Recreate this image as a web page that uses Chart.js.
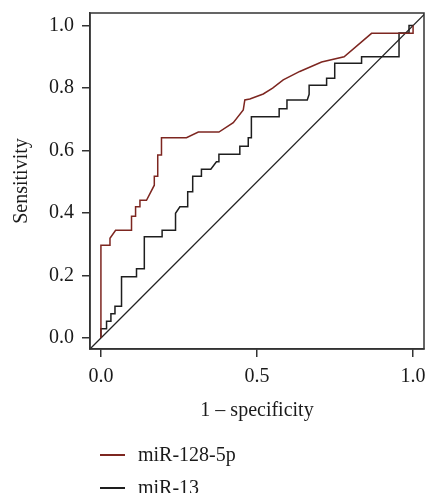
<!DOCTYPE html>
<html>
<head>
<meta charset="utf-8">
<script src="https://cdn.jsdelivr.net/npm/chart.js@4/dist/chart.umd.min.js"></script>
<style>
  html, body { margin: 0; padding: 0; background: #fff; }
  #wrap { position: relative; width: 427px; height: 493px; overflow: hidden; }
  #c { position: absolute; left: 0; top: 0; }
  .leg { position: absolute; left: 100px; font-family: "Liberation Serif", serif; font-size: 20px; color: #1a1a1a; white-space: nowrap; }
  .leg span.ln { position: absolute; left: 0; width: 25px; top: -1px; height: 1.6px; display: block; }
  .leg span.tx { position: absolute; left: 38px; top: 0; transform: translateY(-52%); }
</style>
</head>
<body>
<div id="wrap">
  <canvas id="c" width="427" height="493"></canvas>
  <div id="legend"></div>
</div>
<script>
// ---- data (x = 1 - specificity, y = sensitivity) ----
const seriesNames = ["miR-128-5p", "miR-13"];
const seriesColors = ["#7d2620", "#1e1e1e"];

const red128Fpr = [0, 0, 0.029, 0.029, 0.047, 0.098, 0.098, 0.111, 0.111, 0.125, 0.125, 0.146, 0.171, 0.171, 0.182, 0.182, 0.194, 0.194, 0.274, 0.312, 0.378, 0.424, 0.456, 0.461, 0.477, 0.52, 0.55, 0.584, 0.637, 0.707, 0.779, 0.867, 1.0, 1.0];
const red128Tpr = [0, 0.297, 0.297, 0.319, 0.345, 0.345, 0.39, 0.39, 0.42, 0.42, 0.441, 0.441, 0.489, 0.518, 0.518, 0.586, 0.586, 0.641, 0.641, 0.659, 0.659, 0.689, 0.73, 0.762, 0.765, 0.781, 0.8, 0.826, 0.853, 0.883, 0.9, 0.975, 0.975, 1.0];

const mir13Fpr = [0, 0, 0.018, 0.018, 0.032, 0.032, 0.045, 0.045, 0.066, 0.066, 0.114, 0.114, 0.139, 0.139, 0.196, 0.196, 0.239, 0.239, 0.253, 0.278, 0.278, 0.294, 0.294, 0.322, 0.322, 0.352, 0.37, 0.378, 0.378, 0.445, 0.445, 0.472, 0.472, 0.482, 0.482, 0.571, 0.571, 0.596, 0.596, 0.661, 0.667, 0.667, 0.723, 0.723, 0.749, 0.749, 0.835, 0.835, 0.955, 0.955, 0.987, 0.987, 1.0];
const mir13Tpr = [0, 0.03, 0.03, 0.054, 0.054, 0.078, 0.078, 0.102, 0.102, 0.196, 0.196, 0.222, 0.222, 0.324, 0.324, 0.345, 0.345, 0.399, 0.42, 0.42, 0.468, 0.468, 0.518, 0.518, 0.54, 0.54, 0.564, 0.564, 0.588, 0.588, 0.614, 0.614, 0.641, 0.641, 0.708, 0.708, 0.734, 0.734, 0.762, 0.762, 0.78, 0.809, 0.809, 0.831, 0.831, 0.879, 0.879, 0.9, 0.9, 0.976, 0.976, 1.0, 1.0];

const diagonalX = [-0.2, 1.2];
const diagonalY = [-0.2, 1.2];

const xTickValues = [0, 0.5, 1.0];
const yTickValues = [0, 0.2, 0.4, 0.6, 0.8, 1.0];
const xTitle = "1 \u2013 specificity";
const yTitle = "Sensitivity";

function pts(xs, ys) { return xs.map((x, i) => ({ x: x, y: ys[i] })); }

const FONT = "'Liberation Serif', 'Times New Roman', serif";
const AXIS_COLOR = "#333333";
const TEXT_COLOR = "#1a1a1a";

const boxPlugin = {
  id: 'box',
  afterDraw(chart) {
    const a = chart.chartArea, ctx = chart.ctx;
    ctx.save();
    ctx.strokeStyle = AXIS_COLOR;
    ctx.lineWidth = 1.5;
    ctx.strokeRect(a.left, a.top, a.right - a.left, a.bottom - a.top);
    ctx.restore();
  }
};

const chart = new Chart(document.getElementById('c'), {
  type: 'scatter',
  data: {
    datasets: [
      { label: seriesNames[0], data: pts(red128Fpr, red128Tpr), borderColor: seriesColors[0], showLine: true, pointRadius: 0, borderWidth: 1.5, fill: false, tension: 0 },
      { label: seriesNames[1], data: pts(mir13Fpr, mir13Tpr), borderColor: seriesColors[1], showLine: true, pointRadius: 0, borderWidth: 1.5, fill: false, tension: 0 },
      { label: 'reference', data: pts(diagonalX, diagonalY), borderColor: '#222222', showLine: true, pointRadius: 0, borderWidth: 1.3, fill: false, clip: 0 }
    ]
  },
  options: {
    responsive: false,
    animation: false,
    layout: { padding: { left: 0, right: 3, top: 13, bottom: 64 } },
    plugins: { legend: { display: false }, tooltip: { enabled: false } },
    scales: {
      x: {
        type: 'linear', min: -0.035, max: 1.035,
        afterBuildTicks: s => { s.ticks = xTickValues.map(v => ({ value: v })); },
        afterFit: s => { s.height = 80; s.paddingLeft = 0; s.paddingRight = 0; },
        grid: { display: true, drawOnChartArea: false, drawTicks: true, tickLength: 8, color: AXIS_COLOR, lineWidth: 1.5 },
        border: { display: true, color: AXIS_COLOR, width: 1.5 },
        ticks: { callback: v => Number(v).toFixed(1), font: { family: FONT, size: 20 }, color: TEXT_COLOR, padding: 8, maxRotation: 0 },
        title: { display: true, text: xTitle, font: { family: FONT, size: 20 }, color: TEXT_COLOR, padding: { top: 0, bottom: 6 } }
      },
      y: {
        type: 'linear', min: -0.035, max: 1.04,
        afterBuildTicks: s => { s.ticks = yTickValues.map(v => ({ value: v })); },
        afterFit: s => { s.width = 90; s.paddingTop = 0; s.paddingBottom = 0; },
        grid: { display: true, drawOnChartArea: false, drawTicks: true, tickLength: 8, color: AXIS_COLOR, lineWidth: 1.5 },
        border: { display: true, color: AXIS_COLOR, width: 1.5 },
        ticks: { callback: v => Number(v).toFixed(1), font: { family: FONT, size: 20 }, color: TEXT_COLOR, padding: 8 },
        title: { display: true, text: yTitle, font: { family: FONT, size: 20 }, color: TEXT_COLOR, padding: { top: 10, bottom: 0 } }
      }
    }
  },
  plugins: [boxPlugin]
});

// HTML legend built from the chart's datasets
const legendEl = document.getElementById('legend');
const legendY = [455, 488];
chart.data.datasets.slice(0, 2).forEach((ds, i) => {
  const d = document.createElement('div');
  d.className = 'leg';
  d.style.top = legendY[i] + 'px';
  const ln = document.createElement('span'); ln.className = 'ln'; ln.style.background = ds.borderColor;
  const tx = document.createElement('span'); tx.className = 'tx'; tx.textContent = ds.label;
  d.appendChild(ln); d.appendChild(tx);
  legendEl.appendChild(d);
});
</script>
</body>
</html>
